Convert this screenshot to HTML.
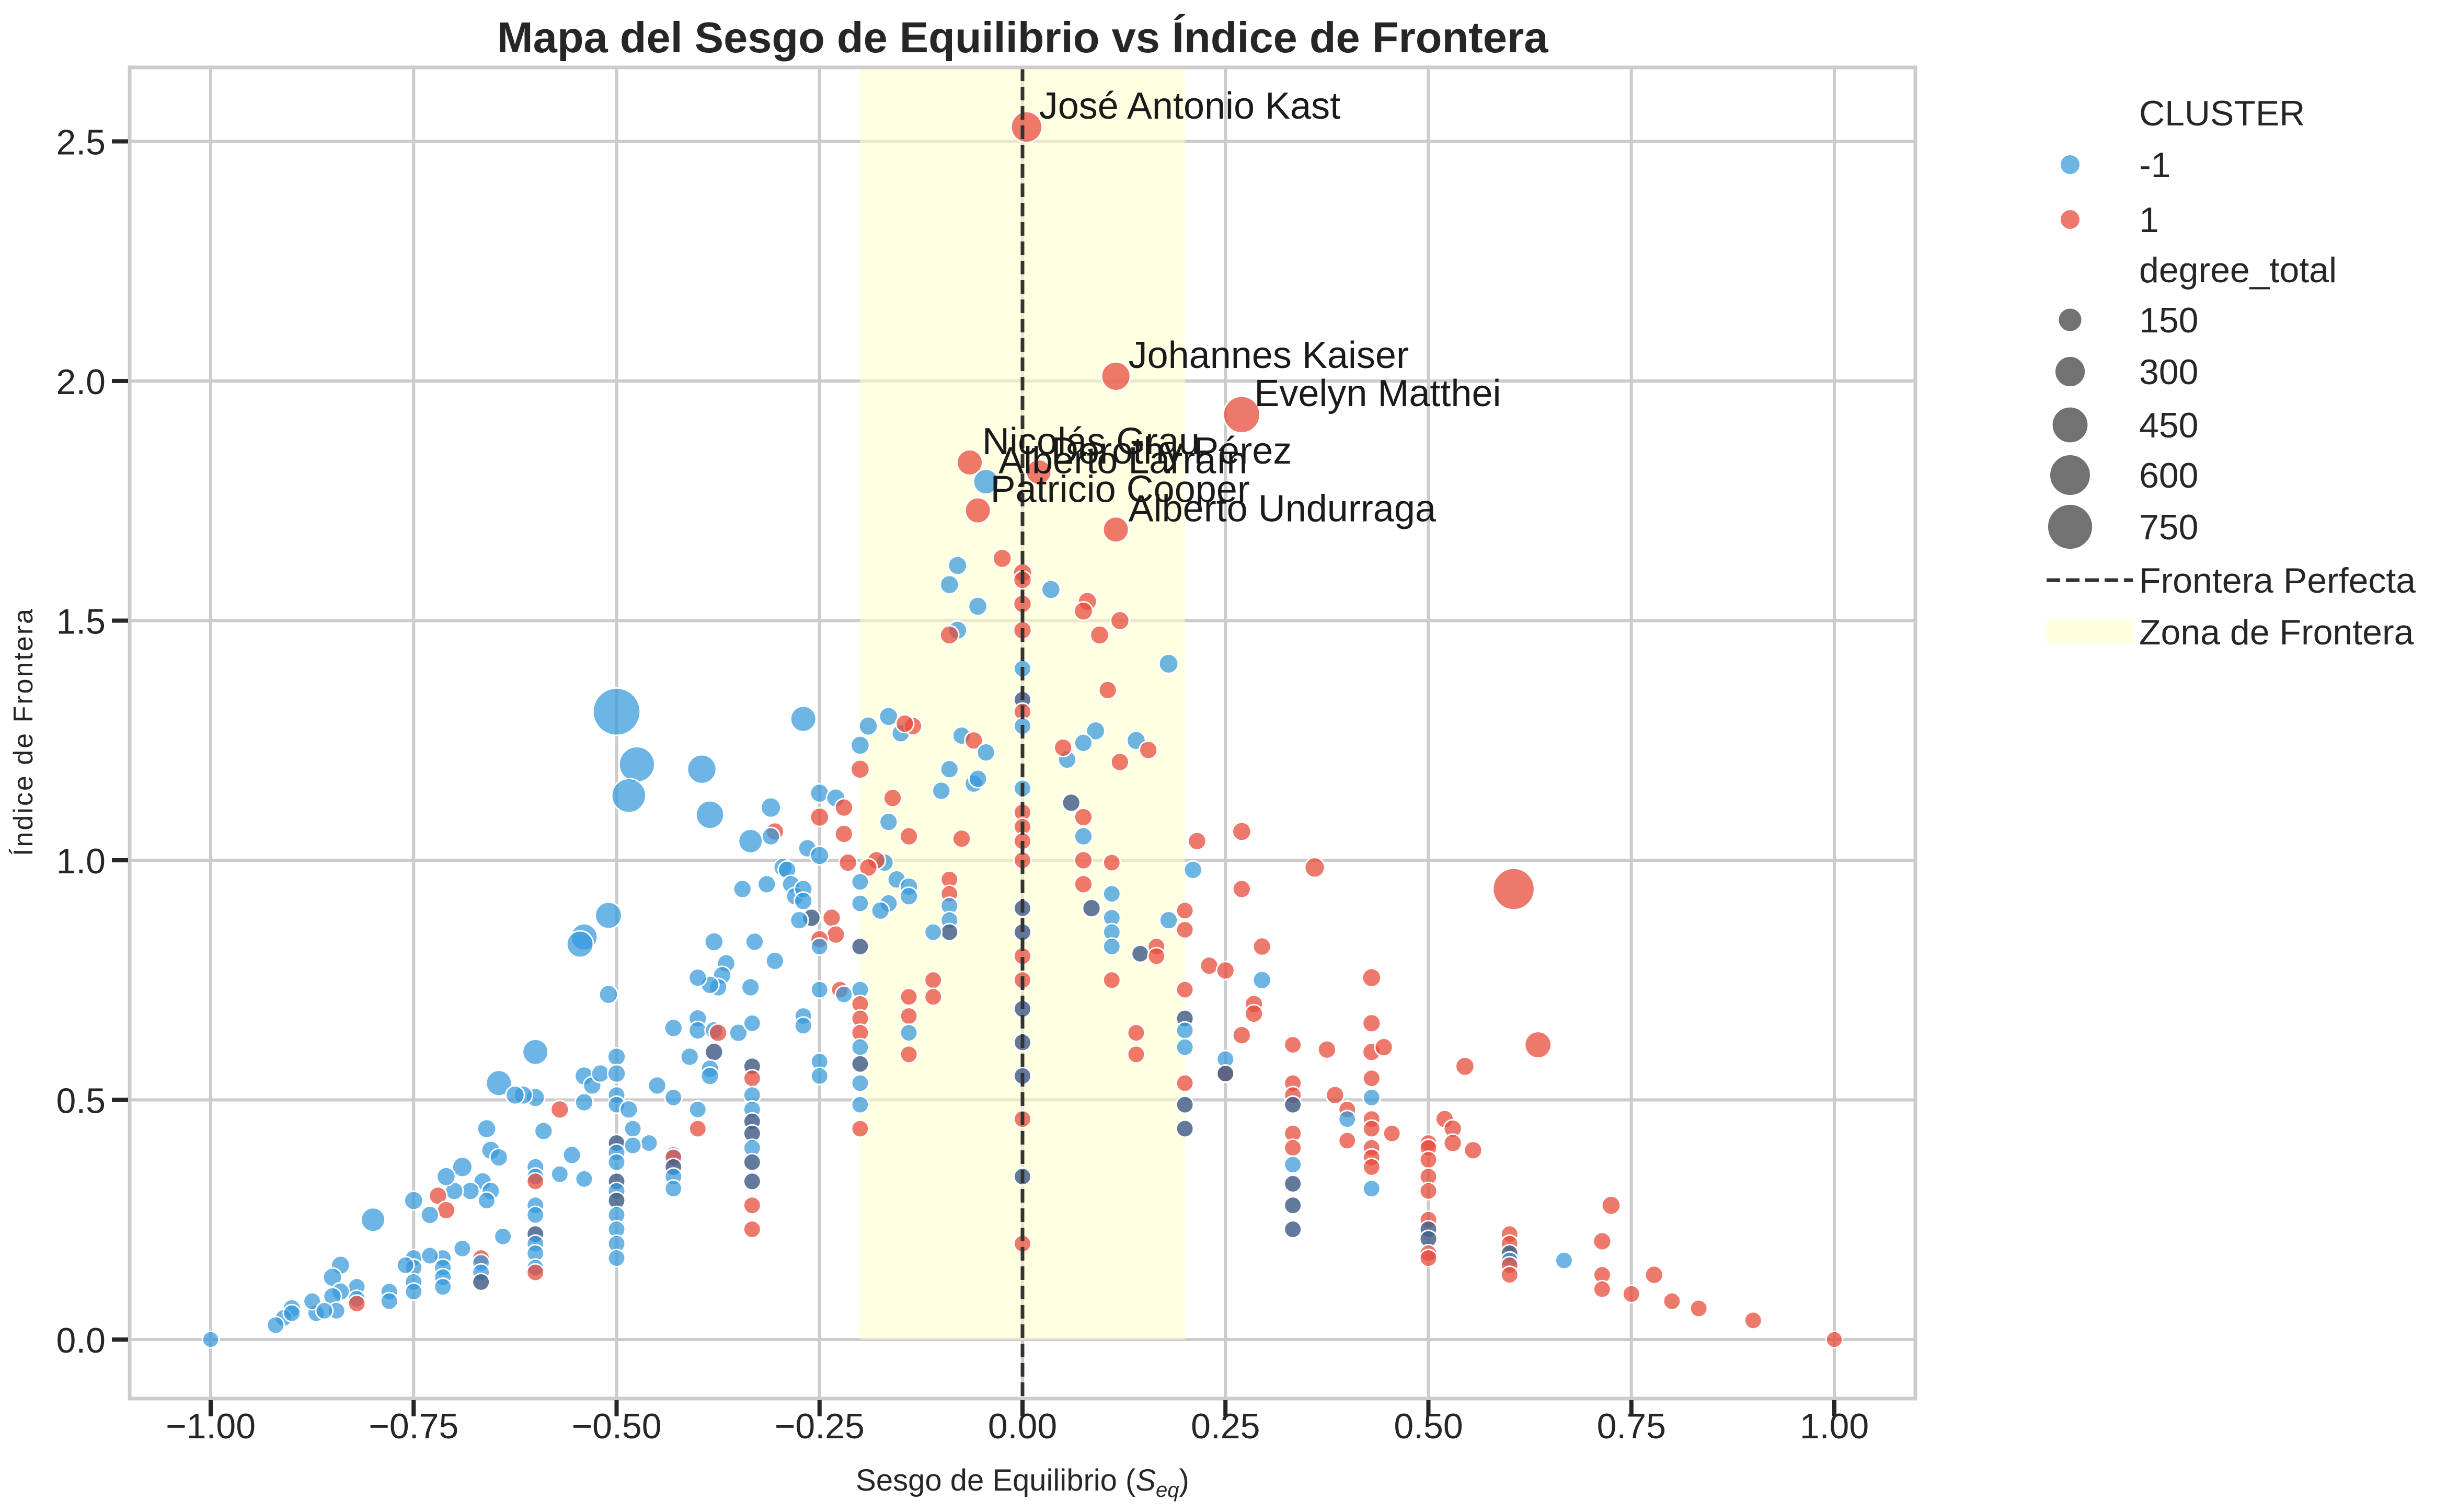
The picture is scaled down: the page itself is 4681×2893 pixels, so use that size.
<!DOCTYPE html>
<html><head><meta charset="utf-8">
<style>
html,body{margin:0;padding:0;background:#fff;}
svg{display:block;font-family:"Liberation Sans","DejaVu Sans",sans-serif;}
</style></head>
<body>
<svg id="chart" width="4681" height="2893" viewBox="0 0 4681 2893" xmlns="http://www.w3.org/2000/svg">
<rect x="0" y="0" width="4681" height="2893" fill="#fff"/>
<g id="grid"></g>
<g id="zone"></g>
<g id="marks"></g>
<g id="annot"></g>
<g id="axes"></g>
<text x="1956" y="100" text-anchor="middle" font-size="83" font-weight="bold" fill="#262626">Mapa del Sesgo de Equilibrio vs Índice de Frontera</text>
<text x="1956" y="2852" text-anchor="middle" font-size="58" fill="#262626">Sesgo de Equilibrio (<tspan font-style="italic">S</tspan><tspan font-style="italic" font-size="40" dy="12">eq</tspan><tspan dy="-12">)</tspan></text>
<text transform="translate(62,1400) rotate(-90)" text-anchor="middle" font-size="52" letter-spacing="3" fill="#262626">Índice de Frontera</text>
<g id="legend"></g>
</svg>
<script>
const xTicks = [-1, -0.75, -0.5, -0.25, 0, 0.25, 0.5, 0.75, 1];
const xTickLabels = ["−1.00","−0.75","−0.50","−0.25","0.00","0.25","0.50","0.75","1.00"];
const yTicks = [0, 0.5, 1, 1.5, 2, 2.5];
const yTickLabels = ["0.0","0.5","1.0","1.5","2.0","2.5"];
const zoneRange = [-0.2, 0.2];
const legendSizes = [150, 300, 450, 600, 750];
const labelNames = ["José Antonio Kast","Johannes Kaiser","Evelyn Matthei","Nicolás Grau","Alberto Larraín","Dorothy Pérez","Patricio Cooper","Alberto Undurraga"];
const labelSesgo = [0.005, 0.115, 0.27, -0.065, -0.045, 0.02, -0.055, 0.115];
const labelIndice = [2.53, 2.01, 1.93, 1.83, 1.79, 1.81, 1.73, 1.69];
const labelCluster = [1, 1, 1, 1, -1, 1, 1, 1];
const labelDegree = [300, 250, 450, 180, 170, 170, 180, 180];
// [sesgo, indice, cluster(-1 blue, 1 red, 0 overlap), degree]
const nodes = [
[-0.025,1.63,1,60],[-0.09,1.575,-1,60],[-0.08,1.615,-1,60],[-0.055,1.53,-1,60],[-0.08,1.48,-1,60],[-0.09,1.47,1,60],[0.035,1.565,-1,60],[0,1.6,1,60],[0,1.585,1,50],[0,1.535,1,50],[0,1.48,1,50],[0.08,1.54,1,60],[0.075,1.52,1,60],[0.12,1.5,1,60],[0.095,1.47,1,60],[0.18,1.41,-1,70],[0.105,1.355,1,50],[0,1.4,-1,40],[0,1.335,0,40],[0,1.31,1,40],[0,1.28,-1,40],
[-0.19,1.28,-1,60],[-0.165,1.3,-1,60],[-0.15,1.265,-1,50],[-0.135,1.28,1,50],[-0.145,1.285,1,50],[-0.2,1.24,-1,60],[-0.2,1.19,1,60],[-0.075,1.26,-1,50],[-0.06,1.25,1,50],[-0.045,1.225,-1,50],[-0.09,1.19,-1,50],[-0.06,1.16,-1,50],[-0.055,1.17,-1,50],[-0.1,1.145,-1,50],[-0.075,1.045,1,50],
[0.055,1.21,-1,50],[0.05,1.235,1,50],[0.09,1.27,-1,60],[0.075,1.245,-1,50],[0.14,1.25,-1,60],[0.155,1.23,1,50],[0.12,1.205,1,50],[0.06,1.12,0,50],[0.075,1.09,1,50],[0.075,1.05,-1,50],[0.075,1.0,1,50],[0.075,0.95,1,50],[0.085,0.9,0,50],[0.11,0.995,1,40],[0.11,0.93,-1,40],[0.11,0.88,-1,40],[0.11,0.85,-1,40],[0.11,0.82,-1,40],[0.11,0.75,1,40],[0.145,0.805,0,40],[0.165,0.82,1,40],[0.165,0.8,1,40],[0.18,0.875,-1,50],
[0,1.15,-1,40],[0,1.1,1,40],[0,1.07,1,40],[0,1.04,1,40],[0,1.0,1,40],[0,0.9,0,40],[0,0.85,0,40],[0,0.8,1,40],[0,0.75,1,40],[0,0.69,0,40],[0,0.62,0,40],[0,0.55,0,40],[0,0.46,1,40],[0,0.34,0,40],[0,0.2,1,40],
[-0.16,1.13,1,50],[-0.165,1.08,-1,50],[-0.17,0.995,-1,50],[-0.155,0.96,-1,50],[-0.14,0.945,-1,50],[-0.14,0.925,-1,50],[-0.165,0.91,-1,50],[-0.175,0.895,-1,50],[-0.18,1.0,1,50],[-0.19,0.985,1,50],[-0.2,0.955,-1,40],[-0.2,0.91,-1,40],[-0.2,0.82,0,40],[-0.2,0.73,-1,40],[-0.2,0.7,1,40],[-0.2,0.67,1,40],[-0.2,0.64,1,40],[-0.2,0.61,-1,40],[-0.2,0.575,0,40],[-0.2,0.535,-1,40],[-0.2,0.49,-1,40],[-0.2,0.44,1,40],
[-0.14,1.05,1,50],[-0.09,0.96,1,40],[-0.09,0.93,1,40],[-0.09,0.905,-1,40],[-0.09,0.875,-1,40],[-0.09,0.85,0,40],[-0.11,0.85,-1,40],[-0.11,0.75,1,40],[-0.11,0.715,1,40],[-0.14,0.715,1,40],[-0.14,0.675,1,40],[-0.14,0.64,-1,40],[-0.14,0.595,1,40],
[0.2,0.895,1,40],[0.2,0.855,1,40],[0.2,0.73,1,40],[0.2,0.67,0,40],[0.2,0.645,-1,40],[0.2,0.61,-1,40],[0.2,0.535,1,40],[0.2,0.49,0,40],[0.2,0.44,0,40],[0.14,0.64,1,40],[0.14,0.595,1,40],
[0.215,1.04,1,50],[0.21,0.98,-1,50],[0.27,1.06,1,60],[0.27,0.94,1,50],[0.36,0.985,1,80],[0.295,0.82,1,50],[0.23,0.78,1,50],[0.25,0.77,1,50],[0.295,0.75,-1,50],[0.285,0.7,1,50],[0.285,0.68,1,50],[0.27,0.635,1,50],[0.25,0.585,-1,40],[0.25,0.555,1,40],[0.25,0.555,0,40],
[0.333,0.615,1,40],[0.333,0.535,1,40],[0.333,0.51,1,40],[0.333,0.49,0,40],[0.333,0.43,1,40],[0.333,0.4,1,40],[0.333,0.365,-1,40],[0.333,0.325,0,40],[0.333,0.28,0,40],[0.333,0.23,0,40],[0.375,0.605,1,50],[0.385,0.51,1,50],[0.4,0.48,1,40],[0.4,0.46,-1,40],[0.4,0.415,1,40],
[0.43,0.755,1,60],[0.43,0.66,1,50],[0.43,0.6,1,50],[0.43,0.545,1,40],[0.43,0.505,-1,40],[0.43,0.46,1,40],[0.43,0.44,1,40],[0.43,0.4,1,40],[0.43,0.38,1,40],[0.43,0.36,1,40],[0.43,0.315,-1,40],[0.445,0.61,1,50],[0.455,0.43,1,40],
[0.5,0.41,1,40],[0.5,0.4,1,40],[0.5,0.375,1,40],[0.5,0.34,1,40],[0.5,0.31,1,40],[0.5,0.25,1,40],[0.5,0.23,0,40],[0.5,0.21,0,40],[0.5,0.18,1,40],[0.5,0.17,1,40],[0.52,0.46,1,50],[0.53,0.44,1,50],[0.53,0.41,1,50],[0.545,0.57,1,60],[0.555,0.395,1,50],
[0.605,0.94,1,600],[0.635,0.615,1,200],[0.6,0.22,1,40],[0.6,0.2,1,40],[0.6,0.18,0,40],[0.6,0.165,-1,40],[0.6,0.155,1,40],[0.6,0.135,1,40],[0.667,0.165,-1,40],[0.714,0.205,1,50],[0.725,0.28,1,60],[0.714,0.135,1,40],[0.714,0.105,1,40],[0.75,0.095,1,40],[0.778,0.135,1,50],[0.8,0.08,1,40],[0.833,0.065,1,40],[0.9,0.04,1,40],[1.0,0.0,1,30],
[-0.5,1.31,-1,800],[-0.475,1.2,-1,420],[-0.485,1.135,-1,380],[-0.395,1.19,-1,250],[-0.385,1.095,-1,230],[-0.27,1.295,-1,180],[-0.25,1.14,-1,60],[-0.23,1.13,-1,60],[-0.22,1.11,1,50],[-0.25,1.09,1,60],[-0.22,1.055,1,50],[-0.31,1.11,-1,80],[-0.305,1.06,1,50],[-0.31,1.05,-1,50],[-0.335,1.04,-1,150],[-0.265,1.025,-1,50],[-0.25,1.01,-1,60],[-0.295,0.985,-1,60],[-0.29,0.98,-1,50],[-0.285,0.95,-1,50],[-0.28,0.925,-1,50],[-0.27,0.94,-1,50],[-0.27,0.915,-1,50],[-0.26,0.88,0,50],[-0.275,0.875,-1,50],[-0.235,0.88,1,50],[-0.215,0.995,1,50],[-0.23,0.845,1,50],[-0.25,0.835,1,50],[-0.25,0.82,-1,40],[-0.315,0.95,-1,50],[-0.345,0.94,-1,50],[-0.33,0.83,-1,50],[-0.305,0.79,-1,50],[-0.38,0.83,-1,60],[-0.365,0.785,-1,50],[-0.37,0.76,-1,50],[-0.375,0.735,-1,50],[-0.385,0.74,-1,50],[-0.4,0.755,-1,50],[-0.335,0.735,-1,50],[-0.25,0.73,-1,40],[-0.225,0.73,1,40],[-0.22,0.72,-1,40],[-0.27,0.675,-1,40],[-0.27,0.655,-1,40],[-0.25,0.58,-1,40],[-0.25,0.55,-1,40],
[-0.51,0.885,-1,200],[-0.54,0.84,-1,200],[-0.545,0.825,-1,200],[-0.51,0.72,-1,60],[-0.4,0.67,-1,50],[-0.4,0.645,-1,50],[-0.38,0.645,-1,50],[-0.375,0.64,1,50],[-0.38,0.6,0,50],[-0.41,0.59,-1,50],[-0.43,0.65,-1,50],[-0.385,0.565,-1,50],[-0.385,0.55,-1,50],[-0.4,0.48,-1,40],[-0.4,0.44,1,40],[-0.43,0.505,-1,40],[-0.45,0.53,-1,50],
[-0.6,0.6,-1,180],[-0.645,0.535,-1,180],[-0.6,0.505,-1,60],[-0.615,0.51,-1,60],[-0.625,0.51,-1,60],[-0.59,0.435,-1,50],[-0.57,0.48,1,50],[-0.555,0.385,-1,50],[-0.54,0.55,-1,60],[-0.53,0.53,-1,50],[-0.52,0.555,-1,50],[-0.5,0.59,-1,50],[-0.5,0.555,-1,50],[-0.5,0.51,-1,40],[-0.5,0.49,-1,40],[-0.5,0.41,0,40],[-0.5,0.39,-1,40],[-0.5,0.37,-1,40],[-0.5,0.33,0,40],[-0.5,0.31,-1,40],[-0.5,0.29,0,40],[-0.5,0.26,-1,40],[-0.5,0.23,-1,40],[-0.5,0.2,-1,40],[-0.5,0.17,-1,40],[-0.54,0.495,-1,50],[-0.54,0.335,-1,40],[-0.57,0.345,-1,40],[-0.485,0.48,-1,50],[-0.48,0.44,-1,40],[-0.46,0.41,-1,40],[-0.48,0.405,-1,40],[-0.43,0.385,-1,40],[-0.43,0.38,1,40],[-0.43,0.36,0,40],[-0.43,0.34,-1,40],[-0.43,0.315,-1,40],
[-0.35,0.64,-1,50],[-0.333,0.66,-1,40],[-0.333,0.57,0,40],[-0.333,0.545,1,40],[-0.333,0.51,-1,40],[-0.333,0.48,-1,40],[-0.333,0.455,0,40],[-0.333,0.43,0,40],[-0.333,0.4,-1,40],[-0.333,0.37,0,40],[-0.333,0.33,0,40],[-0.333,0.28,1,40],[-0.333,0.23,1,40],
[-0.6,0.36,-1,40],[-0.6,0.34,-1,40],[-0.6,0.33,1,40],[-0.6,0.28,-1,40],[-0.6,0.26,-1,40],[-0.6,0.22,0,40],[-0.6,0.2,-1,40],[-0.6,0.18,-1,40],[-0.6,0.15,-1,40],[-0.6,0.14,1,40],
[-0.66,0.44,-1,60],[-0.655,0.395,-1,60],[-0.645,0.38,-1,50],[-0.64,0.215,-1,40],[-0.665,0.33,-1,50],[-0.68,0.31,-1,50],[-0.655,0.31,-1,50],[-0.66,0.29,-1,40],[-0.69,0.36,-1,80],[-0.7,0.31,-1,50],[-0.71,0.34,-1,60],[-0.72,0.3,1,50],[-0.71,0.27,1,50],[-0.73,0.26,-1,50],[-0.69,0.19,-1,40],[-0.667,0.17,1,40],[-0.667,0.16,-1,40],[-0.667,0.14,-1,40],[-0.667,0.12,0,40],[-0.714,0.17,-1,40],[-0.714,0.15,-1,40],[-0.714,0.13,-1,40],[-0.714,0.11,-1,40],
[-0.75,0.29,-1,60],[-0.75,0.17,-1,40],[-0.75,0.15,-1,40],[-0.75,0.12,-1,40],[-0.75,0.1,-1,40],[-0.73,0.175,-1,40],[-0.78,0.1,-1,40],[-0.78,0.08,-1,40],[-0.8,0.25,-1,150],[-0.76,0.155,-1,40],[-0.82,0.11,-1,40],[-0.82,0.085,-1,40],[-0.82,0.075,1,40],[-0.84,0.155,-1,60],[-0.85,0.13,-1,60],[-0.84,0.1,-1,50],[-0.85,0.09,-1,50],[-0.845,0.06,-1,40],[-0.87,0.055,-1,40],[-0.875,0.08,-1,40],[-0.86,0.06,-1,40],[-0.9,0.065,-1,50],[-0.91,0.045,-1,40],[-0.92,0.03,-1,40],[-0.9,0.055,-1,40],[-1.0,0.0,-1,30]
];

const NS = "http://www.w3.org/2000/svg";
const PL = 248, PR = 3664, PT = 129, PB = 2676;
function X(v){ return 1956 + 1553 * v; }
function Y(v){ return 2563 - 917 * v; }
function R(d){ return Math.sqrt(177 + 2.345 * d); }
function col(c){ return c === -1 ? "rgba(52,152,219,0.72)" : (c === 1 ? "rgba(231,76,60,0.75)" : "rgba(72,98,138,0.85)"); }
function mk(tag, attrs, parent){ const e = document.createElementNS(NS, tag); for (const k in attrs) e.setAttribute(k, attrs[k]); parent.appendChild(e); return e; }

const grid = document.getElementById("grid");
xTicks.forEach(function(t){
  const l = mk("line", {x1:X(t), x2:X(t), y1:PT, y2:PB, stroke:"#cccccc", "stroke-width":6}, grid);
  
  
});
yTicks.forEach(function(t){
  const l = mk("line", {x1:PL, x2:PR, y1:Y(t), y2:Y(t), stroke:"#cccccc", "stroke-width":6}, grid);
  
  
});

const zone = document.getElementById("zone");
const zr = mk("rect", {x:X(zoneRange[0]), y:PT, width:X(zoneRange[1]) - X(zoneRange[0]), height:Y(0) - PT, fill:"rgba(255,255,200,0.55)"}, zone);



const marks = document.getElementById("marks");
function drawPoint(x, y, c, d){
  const p = mk("circle", {cx:X(x), cy:Y(y), r:R(d), fill:col(c), stroke:"#ffffff", "stroke-width":3}, marks);
  
  
}
nodes.forEach(function(n){ drawPoint(n[0], n[1], n[2], n[3]); });
labelSesgo.forEach(function(x, i){ drawPoint(x, labelIndice[i], labelCluster[i], labelDegree[i]); });

const dl = mk("line", {x1:X(0), x2:X(0), y1:PT, y2:PB, stroke:"#333333", "stroke-width":7, "stroke-dasharray":"26,11"}, marks);



const annot = document.getElementById("annot");
labelNames.forEach(function(name, i){
  const t = mk("text", {x:X(labelSesgo[i]) + 24, y:Y(labelIndice[i]) - 16, "font-size":72, fill:"#1a1a1a"}, annot);
  t.textContent = name;
  
  
});

const axes = document.getElementById("axes");
const fr = mk("rect", {x:PL, y:PT, width:PR-PL, height:PB-PT, fill:"none", stroke:"#cccccc", "stroke-width":7}, axes);


xTicks.forEach(function(t, i){
  const tk = mk("line", {x1:X(t), x2:X(t), y1:PB + 3, y2:PB + 34, stroke:"#262626", "stroke-width":8}, axes);
  
  
  const lb = mk("text", {x:X(t), y:2752, "text-anchor":"middle", "font-size":68, fill:"#262626"}, axes);
  lb.textContent = xTickLabels[i];
  
  
});
yTicks.forEach(function(t, i){
  const tk = mk("line", {x1:PL - 34, x2:PL - 3, y1:Y(t), y2:Y(t), stroke:"#262626", "stroke-width":8}, axes);
  
  
  const lb = mk("text", {x:PL - 46, y:Y(t) + 25, "text-anchor":"end", "font-size":68, fill:"#262626"}, axes);
  lb.textContent = yTickLabels[i];
  
  
});

const lg = document.getElementById("legend");
const LX = 3960, TX = 4092;
const rowsY = [216, 315, 420, 516, 612, 711, 813, 909, 1008, 1110, 1209];
function ltext(str, y, name){
  const t = mk("text", {x:TX, y:y + 24, "font-size":68, fill:"#262626"}, lg);
  t.textContent = str;
  
  
}
ltext("CLUSTER", rowsY[0], "legend-title-cluster");
const lc1 = mk("circle", {cx:LX, cy:rowsY[1], r:19, fill:col(-1), stroke:"#fff", "stroke-width":2}, lg);


ltext("-1", rowsY[1], "legend-entry-cluster-neg1");
const lc2 = mk("circle", {cx:LX, cy:rowsY[2], r:19, fill:col(1), stroke:"#fff", "stroke-width":2}, lg);


ltext("1", rowsY[2], "legend-entry-cluster-1");
ltext("degree_total", rowsY[3], "legend-title-degree");
legendSizes.forEach(function(s, i){
  const y = rowsY[4 + i];
  const c = mk("circle", {cx:LX, cy:y, r:R(s) * 0.98, fill:"rgba(60,60,60,0.72)", stroke:"#fff", "stroke-width":2}, lg);
  
  
  ltext(String(s), y, "legend-entry-size");
});
const ll = mk("line", {x1:3915, x2:4080, y1:rowsY[9], y2:rowsY[9], stroke:"#333", "stroke-width":7, "stroke-dasharray":"26,11"}, lg);


ltext("Frontera Perfecta", rowsY[9], "legend-entry-frontera-perfecta");
const lr = mk("rect", {x:3915, y:rowsY[10] - 22, width:165, height:44, fill:"rgba(255,255,200,0.6)"}, lg);


ltext("Zona de Frontera", rowsY[10], "legend-entry-zona-frontera");
</script>
</body></html>
